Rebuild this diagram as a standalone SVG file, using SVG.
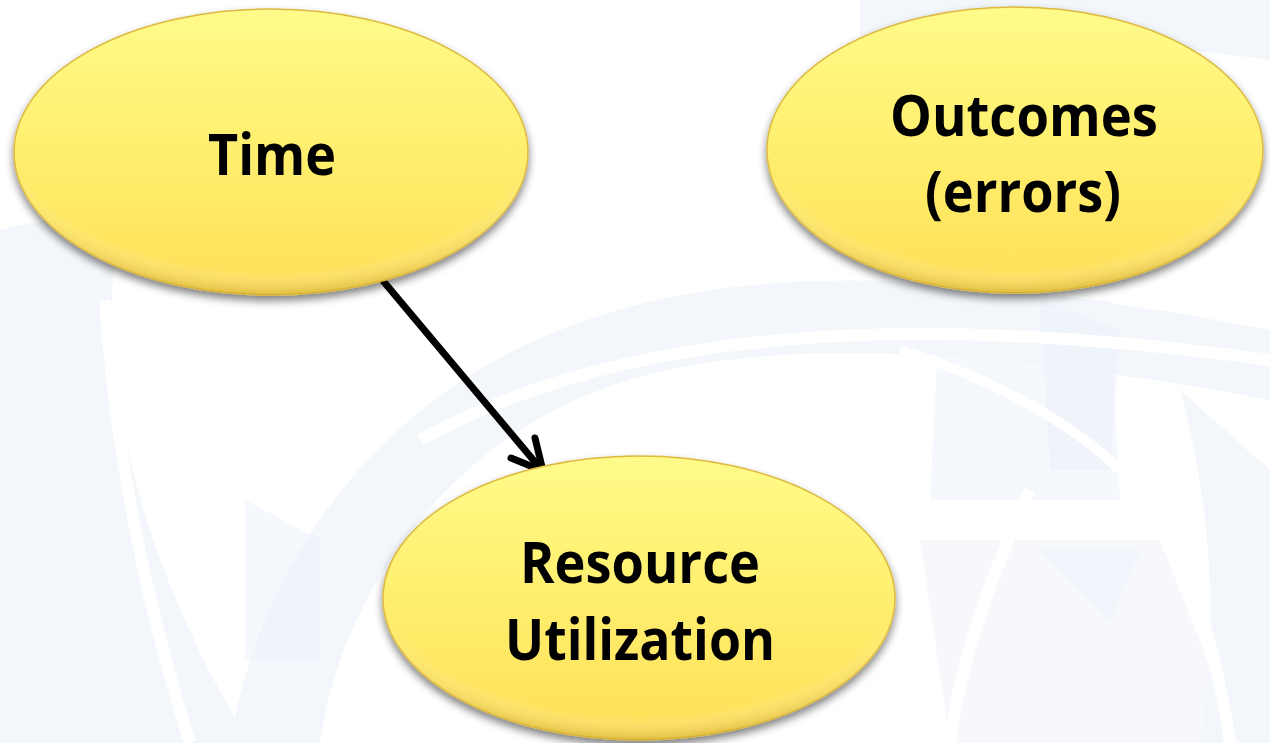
<svg xmlns="http://www.w3.org/2000/svg" width="1270" height="743" viewBox="0 0 1270 743">
  <defs>
    <linearGradient id="nodeFill" x1="0" y1="0" x2="0" y2="1">
      <stop offset="0" stop-color="#FFFB8A"/>
      <stop offset="0.45" stop-color="#FFF070"/>
      <stop offset="1" stop-color="#FFDF58"/>
    </linearGradient>
    <radialGradient id="nodeRim" cx="0.5" cy="0.4" r="0.6">
      <stop offset="0.86" stop-color="#FFFFFF" stop-opacity="0"/>
      <stop offset="1" stop-color="#B8901A" stop-opacity="0.45"/>
    </radialGradient>
    <filter id="shadow" x="-10%" y="-10%" width="120%" height="130%">
      <feGaussianBlur in="SourceAlpha" stdDeviation="4"/>
      <feOffset dy="5" result="b"/>
      <feComponentTransfer><feFuncA type="linear" slope="0.5"/></feComponentTransfer>
      <feMerge><feMergeNode/><feMergeNode in="SourceGraphic"/></feMerge>
    </filter>
    <style>
      .node { fill: url(#nodeFill); stroke: #DDB93E; stroke-width: 1.5; }
      .rim { fill: url(#nodeRim); }
      .label { font-family: "Open Sans", "Liberation Sans", sans-serif; font-weight: bold; font-size: 58px; fill: #000; text-anchor: middle; }
      .edge { fill: none; stroke: #000; stroke-width: 7; stroke-linecap: round; stroke-linejoin: round; }
      .wm { fill: #EEF2F9; }
      .wm2 { fill: #E6ECF7; }
      .gap { fill: none; stroke: #FFFFFF; }
    </style>
  </defs>

  <!-- page background with faint watermark swooshes -->
  <rect width="1270" height="743" fill="#FFFFFF"/>
  <g id="watermark" opacity="0.7">
    <path class="wm" d="M0,230 C40,220 80,215 120,215 C90,390 150,580 250,743 L0,743 Z"/>
    <path class="wm" d="M230,743 C260,560 380,400 560,330 C760,250 1000,280 1270,330 L1270,400 C1000,350 760,330 600,390 C440,450 340,600 320,743 Z"/>
    <path class="wm2" d="M245,500 L320,540 L320,660 L245,660 Z" opacity="0.6"/>
    <path class="wm" d="M860,0 L1270,0 L1270,60 C1120,40 980,30 860,40 Z"/>
    <path class="wm" d="M940,300 L1110,300 L1120,500 L930,500 Z" opacity="0.8"/>
    <path class="wm2" d="M1040,300 L1120,330 L1110,470 L1050,470 Z" opacity="0.6"/>
    <path class="wm" d="M1180,390 L1270,470 L1270,743 L1200,743 C1220,620 1210,500 1180,390 Z"/>
    <path class="wm" d="M920,540 L1160,540 L1240,743 L950,743 Z" opacity="0.7"/>
    <path class="wm2" d="M1040,550 L1140,550 L1110,620 Z" opacity="0.6"/>
    <path class="gap" d="M105,300 C115,450 145,600 190,743" stroke-width="12"/>
    <path class="gap" d="M420,440 C620,330 900,310 1270,360" stroke-width="12"/>
    <path class="gap" d="M900,350 C1000,380 1080,430 1120,470" stroke-width="10"/>
    <path class="gap" d="M1030,490 C990,580 960,660 950,743" stroke-width="12"/>
    <path class="gap" d="M1170,520 C1200,600 1220,670 1230,743" stroke-width="12"/>
  </g>

  <!-- connectors -->
  <g id="edges">
    <path class="edge" d="M384,282 L540,468"/>
    <path class="edge" d="M511,458 L543,471 L535,438"/>
  </g>

  <g id="node-time" filter="url(#shadow)">
    <ellipse class="node" cx="271" cy="152" rx="257" ry="143"/>
    <ellipse class="rim" cx="271" cy="152" rx="257" ry="143"/>
    <text class="label" x="272" y="175" textLength="128" lengthAdjust="spacingAndGlyphs">Time</text>
  </g>

  <g id="node-outcomes" filter="url(#shadow)">
    <ellipse class="node" cx="1015" cy="150" rx="248" ry="143"/>
    <ellipse class="rim" cx="1015" cy="150" rx="248" ry="143"/>
    <text class="label" x="1024" y="136" textLength="268" lengthAdjust="spacingAndGlyphs">Outcomes</text>
    <text class="label" x="1023" y="212" textLength="196" lengthAdjust="spacingAndGlyphs">(errors)</text>
  </g>

  <g id="node-resource" filter="url(#shadow)">
    <ellipse class="node" cx="639" cy="598" rx="256" ry="142"/>
    <ellipse class="rim" cx="639" cy="598" rx="256" ry="142"/>
    <text class="label" x="640" y="583" textLength="240" lengthAdjust="spacingAndGlyphs">Resource</text>
    <text class="label" x="640" y="660" textLength="270" lengthAdjust="spacingAndGlyphs">Utilization</text>
  </g>
</svg>
